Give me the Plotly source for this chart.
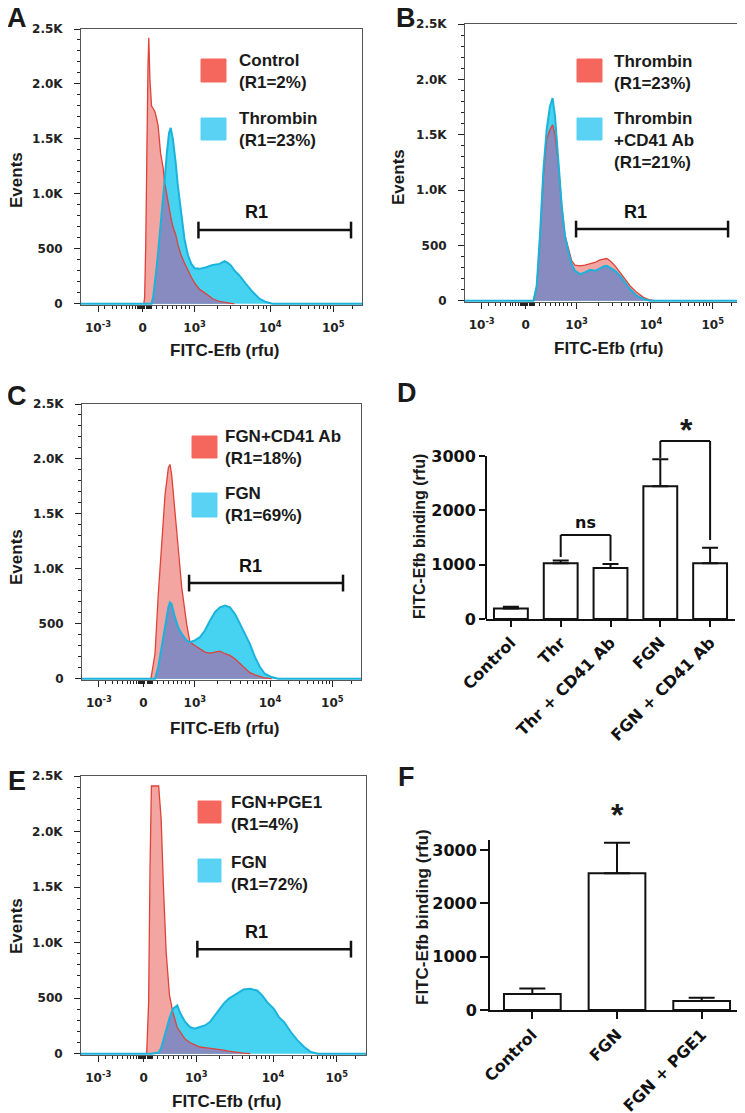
import numpy as np
import plotly.graph_objects as go

# the page puts the figure 8 px in from the top-left corner of the window
OFF = 8
W, H = 745 - OFF, 1113 - OFF

# ---- flow histograms: x = display channel (0-1024, biexponential), y = events ----
a_ch = [0, 225, 229, 232, 236, 240, 244, 247, 251, 257, 263, 269, 275, 281, 290, 299, 305, 313, 321, 327,
        335, 345, 353, 365, 377, 390, 402, 414, 432, 456, 480, 505, 523, 535, 547, 559, 577, 601, 626, 650,
        674, 698, 1024]
a_control = [0, 0, 0, 60, 550, 1500, 2150, 2420, 2050, 1800, 1770, 1750, 1690, 1620, 1370, 1240, 1100, 980, 870, 790,
             700, 630, 540, 440, 370, 300, 240, 190, 130, 90, 45, 20, 10, 6, 3, 0, 0, 0, 0, 0,
             0, 0, 0]
a_thrombin = [0, 0, 0, 0, 0, 0, 0, 0, 0, 0, 60, 166, 320, 468, 700, 960, 1132, 1374, 1555, 1600,
              1495, 1283, 1072, 830, 589, 438, 362, 323, 317, 332, 353, 362, 387, 371, 347, 302, 257, 181, 106, 45,
              15, 0, 0]

b_ch = [0, 254, 266, 278, 291, 303, 315, 325, 334, 346, 359, 371, 384, 396, 408, 427, 445, 464, 482, 501,
        513, 526, 538, 557, 575, 594, 612, 637, 662, 687, 705, 1024]
b_thrombin = [0, 0, 120, 555, 1125, 1455, 1545, 1590, 1500, 1245, 855, 590, 465, 360, 321, 315, 321, 330, 345, 369,
              375, 381, 360, 315, 255, 195, 135, 75, 30, 6, 0, 0]
b_thr_cd41 = [0, 0, 135, 585, 1185, 1545, 1755, 1830, 1665, 1275, 855, 585, 435, 330, 270, 240, 255, 279, 270, 291,
              309, 315, 300, 270, 225, 165, 105, 45, 15, 0, 0, 0]

c_ch = [0, 253, 268, 280, 292, 305, 317, 323, 329, 341, 353, 366, 384, 396, 414, 433, 451, 470, 488, 506,
        525, 543, 561, 580, 598, 616, 635, 653, 671, 696, 720, 1024]
c_fgn_cd41 = [0, 0, 227, 771, 1224, 1678, 1920, 1950, 1859, 1527, 1134, 831, 500, 333, 302, 272, 242, 233, 242, 251,
              227, 212, 181, 136, 91, 55, 35, 18, 6, 0, 0, 0]
c_fgn = [0, 0, 0, 106, 287, 469, 650, 695, 680, 560, 469, 408, 348, 333, 348, 378, 438, 529, 605, 650,
         665, 650, 590, 499, 408, 317, 196, 106, 45, 15, 0, 0]

e_ch = [0, 236, 243, 248, 253, 279, 288, 296, 306, 318, 330, 346, 355, 373, 391, 409, 427, 445, 463, 476,
        494, 512, 530, 548, 566, 584, 608, 633, 651, 669, 693, 711, 730, 754, 778, 802, 826, 851, 1024]
e_fgn_pge1 = [0, 0, 464, 1662, 2410, 2410, 2110, 1512, 913, 524, 374, 235, 200, 135, 100, 80, 60, 55, 50, 45,
              38, 32, 22, 15, 8, 4, 0, 0, 0, 0, 0, 0, 0, 0, 0, 0, 0, 0, 0]
e_fgn = [0, 0, 0, 0, 0, 10, 50, 120, 220, 320, 404, 434, 374, 290, 240, 225, 240, 254, 284, 329,
         389, 449, 494, 524, 554, 578, 584, 569, 524, 464, 404, 329, 284, 195, 120, 60, 15, 0, 0]

# R1 gates: [start channel, end channel, events level]
gate_a = [428, 984, 670]
gate_b = [412, 976, 647]
gate_c = [393, 958, 870]
gate_e = [418, 970, 941]

dec_ch = [62, 225, 414, 690, 919]
dec_lbl = ['10<sup>-3</sup>', '0', '10<sup>3</sup>', '10<sup>4</sup>', '10<sup>5</sup>']
ev_vals = [0, 500, 1000, 1500, 2000, 2500]
ev_lbl = ['0', '500', '1.0K', '1.5K', '2.0K', '2.5K']

# ---- bar charts ----
d_labels = ['Control', 'Thr', 'Thr + CD41 Ab', 'FGN', 'FGN + CD41 Ab']
d_mean = [195, 1025, 940, 2445, 1025]
d_sem = [32, 50, 72, 495, 288]

f_labels = ['Control', 'FGN', 'FGN + PGE1']
f_mean = [300, 2565, 170]
f_sem = [105, 575, 60]

RED_FILL, RED_LINE = '#f3a5a2', '#de4238'
BLUE_FILL, BLUE_LINE = '#46d3f1', '#1ab3dc'
OVER_FILL = '#878bbf'
LEG_RED, LEG_BLUE = '#f5665c', '#59d2f4'
SANS = 'Liberation Sans, Arial, sans-serif'
WIDE = 'DejaVu Sans, Verdana, sans-serif'


def px2x(p):
    return (p - OFF) / W


def px2y(p):
    return 1 - (p - OFF) / H


# minor ticks of the biexponential axis
minor_ch = [87, 113, 131, 149, 167, 178, 189, 200] + list(range(207, 234, 3)) + list(range(240, 259, 3))
minor_ch += [276, 298, 316, 334, 349, 367, 381, 396]
minor_ch += [414 + 276 * np.log10(k) for k in range(2, 10)]
minor_ch += [690 + 229 * np.log10(k) for k in range(2, 10)]
minor_ch += [919 + 229 * np.log10(2)]

hist_panels = [
    dict(n=1, box=(81, 362, 29, 305), ch=a_ch, red=a_control, blue=a_thrombin, gate=gate_a, r1=(639, 833),
         letter=('A', 17, 18), events=(16, 180), xtitle=(225, 350), sq_x=(201, 226), red_sq=(59, 82), blue_sq=(118, 140),
         text_x=237, red_txt=('Control<br>(R1=2%)', 71), blue_txt=('Thrombin<br>(R1=23%)', 129)),
    dict(n=2, box=(465, 741, 24, 302), ch=b_ch, red=b_thrombin, blue=b_thr_cd41, gate=gate_b, r1=(631, 800),
         letter=('B', 406, 18), events=(398, 177), xtitle=(609, 348), sq_x=(577, 602), red_sq=(59, 82), blue_sq=(118, 140),
         text_x=612, red_txt=('Thrombin<br>(R1=23%)', 72), blue_txt=('Thrombin<br>+CD41 Ab<br>(R1=21%)', 140)),
    dict(n=3, box=(82, 361, 404, 680), ch=c_ch, red=c_fgn_cd41, blue=c_fgn, gate=gate_c, r1=(617, 1024),
         letter=('C', 17, 396), events=(16, 557), xtitle=(225, 728), sq_x=(192, 217), red_sq=(436, 458), blue_sq=(493, 517),
         text_x=223, red_txt=('FGN+CD41 Ab<br>(R1=18%)', 448), blue_txt=('FGN<br>(R1=69%)', 505)),
    dict(n=5, box=(81, 366, 776, 1055), ch=e_ch, red=e_fgn_pge1, blue=e_fgn, gate=gate_e, r1=(632, 1093),
         letter=('E', 17, 781), events=(16, 926), xtitle=(227, 1101), sq_x=(198, 221), red_sq=(801, 823), blue_sq=(859, 882),
         text_x=229, red_txt=('FGN+PGE1<br>(R1=4%)', 813), blue_txt=('FGN<br>(R1=72%)', 873)),
]

fig = go.Figure()
layout = dict(width=W, height=H, margin=dict(l=0, r=0, t=0, b=0, autoexpand=False), paper_bgcolor='white',
              plot_bgcolor='white', showlegend=False, hovermode=False)
shapes, annos = [], []


def note(text, x, y, size, family=SANS, **kw):
    annos.append(dict(text=text, x=px2x(x), y=px2y(y), xref='paper', yref='paper', showarrow=False,
                      font=dict(family=family, size=size, color='#1a1a1a', weight='bold'), **kw))


tick_font = dict(family=WIDE, size=12, color='#222', weight='bold')

for p in hist_panels:
    sx = '' if p['n'] == 1 else str(p['n'])
    xr, yr = 'x' + sx, 'y' + sx
    ch = np.array(p['ch'])
    red = np.array(p['red'], dtype=float)
    blue = np.array(p['blue'], dtype=float)

    fig.add_trace(go.Scatter(x=ch, y=red, xaxis=xr, yaxis=yr, mode='lines', fill='tozeroy',
                             fillcolor=RED_FILL, line=dict(width=0)))
    fig.add_trace(go.Scatter(x=ch, y=blue, xaxis=xr, yaxis=yr, mode='lines', fill='tozeroy',
                             fillcolor=BLUE_FILL, line=dict(width=0)))
    fig.add_trace(go.Scatter(x=ch, y=np.minimum(red, blue), xaxis=xr, yaxis=yr, mode='lines', fill='tozeroy',
                             fillcolor=OVER_FILL, line=dict(width=0)))
    nz = np.nonzero(red)[0]
    i0, i1 = max(nz[0] - 1, 0), min(nz[-1] + 2, len(red))
    fig.add_trace(go.Scatter(x=ch[i0:i1], y=red[i0:i1], xaxis=xr, yaxis=yr, mode='lines',
                             line=dict(color=RED_LINE, width=1.3)))
    fig.add_trace(go.Scatter(x=ch, y=blue, xaxis=xr, yaxis=yr, mode='lines',
                             line=dict(color=BLUE_LINE, width=2)))

    g0, g1, gy = p['gate']
    fig.add_trace(go.Scatter(x=[g0, g1], y=[gy, gy], xaxis=xr, yaxis=yr, mode='lines+markers',
                             line=dict(color='#111', width=2.5),
                             marker=dict(symbol='line-ns-open', size=12, line=dict(color='#111', width=2.5))))
    annos.append(dict(text='R1', x=p['r1'][0], y=p['r1'][1], xref=xr, yref=yr, showarrow=False,
                      font=dict(family=SANS, size=18, color='#111', weight='bold')))

    x0, x1, y0, y1 = p['box']
    layout['xaxis' + sx] = dict(domain=[px2x(x0), px2x(x1)], range=[0, 1024], anchor=yr, automargin=False,
                                tickmode='array', tickvals=dec_ch, ticktext=dec_lbl,
                                ticks='outside', ticklen=6, tickwidth=1.2, tickcolor='#222',
                                showline=True, mirror=True, linecolor='#555', linewidth=1,
                                showgrid=False, zeroline=False, tickfont=tick_font, ticklabelstandoff=6,
                                minor=dict(tickmode='array', tickvals=minor_ch, ticks='outside', ticklen=3,
                                           tickwidth=1, tickcolor='#222', showgrid=False),
                                layer='below traces', fixedrange=True)
    layout['yaxis' + sx] = dict(domain=[px2y(y1), px2y(y0)], range=[-12, 2500], anchor=xr, automargin=False,
                                tickmode='array', tickvals=ev_vals, ticktext=ev_lbl,
                                ticks='outside', ticklen=6, tickwidth=1.2, tickcolor='#222',
                                showline=True, mirror=True, linecolor='#555', linewidth=1,
                                showgrid=False, zeroline=False, tickfont=tick_font, ticklabelstandoff=9,
                                minor=dict(dtick=100, tick0=0, ticks='outside', ticklen=3, tickwidth=1,
                                           tickcolor='#222', showgrid=False),
                                layer='below traces', fixedrange=True)

    # legend boxes and labels
    for (t0, t1), col in ((p['red_sq'], LEG_RED), (p['blue_sq'], LEG_BLUE)):
        shapes.append(dict(type='rect', xref='paper', yref='paper', x0=px2x(p['sq_x'][0]), x1=px2x(p['sq_x'][1]),
                           y0=px2y(t1), y1=px2y(t0), fillcolor=col, line=dict(color=col, width=1)))
    for txt, ty in (p['red_txt'], p['blue_txt']):
        note(txt, p['text_x'], ty, 17, xanchor='left', yanchor='middle', align='left')

    note(p['letter'][0], p['letter'][1], p['letter'][2], 27, xanchor='center', yanchor='middle')
    note('Events', p['events'][0], p['events'][1], 17, textangle=-90, xanchor='center', yanchor='middle')
    note('FITC-Efb (rfu)', p['xtitle'][0], p['xtitle'][1], 17, xanchor='center', yanchor='middle')

# ---- panel D ----
bar_font = dict(family=WIDE, size=16, color='#111', weight='bold')
fig.add_trace(go.Bar(x=d_labels, y=d_mean, xaxis='x4', yaxis='y4', width=0.68,
                     marker=dict(color='white', line=dict(color='#111', width=2)),
                     error_y=dict(type='data', array=d_sem, arrayminus=[0] * len(d_sem), symmetric=False,
                                  color='#111', thickness=2, width=8)))
layout['xaxis4'] = dict(domain=[px2x(486), px2x(735)], anchor='y4', type='category', range=[-0.5, 4.5],
                        automargin=False, showline=True, linecolor='#111', linewidth=2, ticks='outside',
                        ticklen=6, tickwidth=2, tickcolor='#111', tickangle=-45, tickfont=bar_font,
                        showgrid=False, zeroline=False, fixedrange=True)
layout['yaxis4'] = dict(domain=[px2y(619), px2y(619 - 3400 * 163 / 3000)], anchor='x4', range=[0, 3400],
                        automargin=False, tickvals=[0, 1000, 2000, 3000], ticks='outside', ticklen=6, tickwidth=2,
                        tickcolor='#111', showline=False, tickfont=bar_font, showgrid=False, zeroline=False,
                        fixedrange=True)
shapes.append(dict(type='line', xref='paper', yref='y4', x0=px2x(486), x1=px2x(486), y0=0, y1=3000,
                   line=dict(color='#111', width=2)))
for seg in [(1, 1141, 1, 1546), (1, 1546, 2, 1546), (2, 1546, 2, 1068),
            (3, 2963, 3, 3276), (3, 3276, 4, 3276), (4, 3276, 4, 1454)]:
    shapes.append(dict(type='line', xref='x4', yref='y4', x0=seg[0], y0=seg[1], x1=seg[2], y1=seg[3],
                       line=dict(color='#111', width=2)))
annos.append(dict(text='ns', x=1.5, y=1785, xref='x4', yref='y4', showarrow=False, font=bar_font))
note('*', 686, 430, 32, xanchor='center', yanchor='middle')
note('FITC-Efb binding (rfu)', 419, 537, 16, textangle=-90, xanchor='center', yanchor='middle')
note('D', 407, 393, 27, xanchor='center', yanchor='middle')

# ---- panel F ----
fig.add_trace(go.Bar(x=f_labels, y=f_mean, xaxis='x6', yaxis='y6', width=0.67,
                     marker=dict(color='white', line=dict(color='#111', width=2)),
                     error_y=dict(type='data', array=f_sem, arrayminus=[0] * len(f_sem), symmetric=False,
                                  color='#111', thickness=2, width=13)))
layout['xaxis6'] = dict(domain=[px2x(490), px2x(744)], anchor='y6', type='category', range=[-0.5, 2.5],
                        automargin=False, showline=True, linecolor='#111', linewidth=2, ticks='outside',
                        ticklen=7, tickwidth=2, tickcolor='#111', tickangle=-45, tickfont=bar_font,
                        showgrid=False, zeroline=False, fixedrange=True)
layout['yaxis6'] = dict(domain=[px2y(1010), px2y(840)], anchor='x6', range=[0, 3190], automargin=False,
                        tickvals=[0, 1000, 2000, 3000], ticks='outside', ticklen=8, tickwidth=2, tickcolor='#111',
                        showline=True, linecolor='#111', linewidth=2, tickfont=bar_font, showgrid=False,
                        zeroline=False, fixedrange=True)
note('*', 617, 815, 32, xanchor='center', yanchor='middle')
note('FITC-Efb binding (rfu)', 422, 917, 17, textangle=-90, xanchor='center', yanchor='middle')
note('F', 406, 777, 27, xanchor='center', yanchor='middle')

layout['shapes'] = shapes
layout['annotations'] = annos
fig.update_layout(**layout)

fig.write_html("out.html")
